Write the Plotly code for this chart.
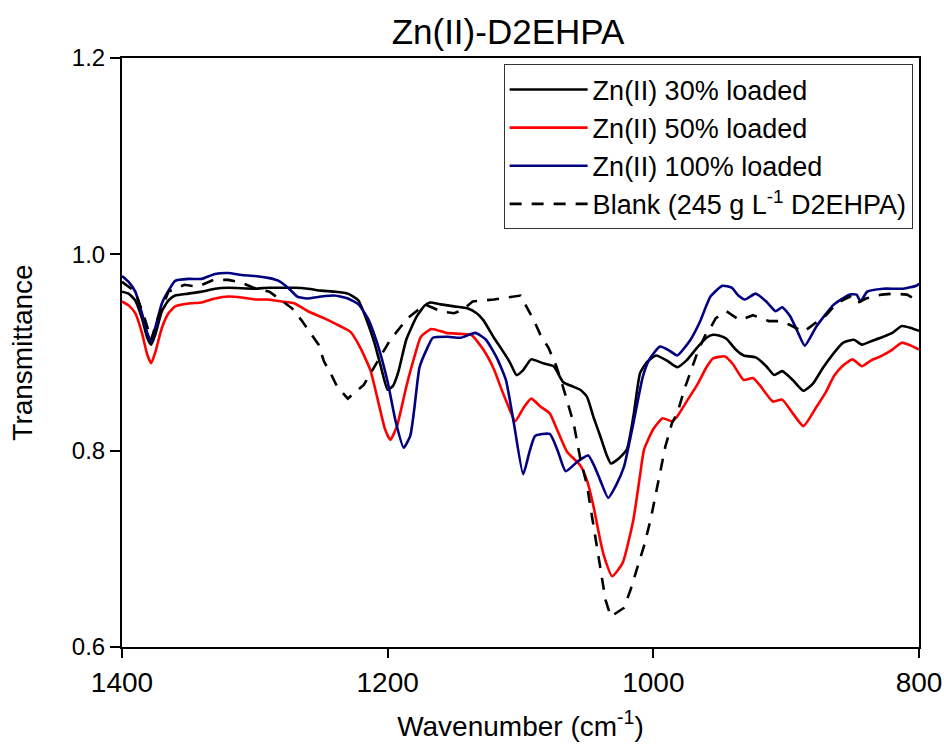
import plotly.graph_objects as go

# ---- data ----
wn_30 = [1400, 1395, 1390, 1385, 1381, 1378, 1375, 1370, 1365, 1360, 1350, 1340, 1330, 1320, 1300, 1290,
         1280, 1270, 1260, 1250, 1240, 1230, 1222, 1215, 1210, 1205, 1200, 1196, 1192, 1186, 1178, 1172,
         1168, 1160, 1150, 1140, 1133, 1128, 1120, 1115, 1108, 1103, 1098, 1092, 1083, 1075, 1068, 1060,
         1055, 1050, 1045, 1040, 1035, 1032, 1026, 1020, 1015, 1010, 1005, 998, 990, 982, 975, 967, 960,
         955, 950, 945, 938, 932, 923, 915, 909, 903, 895, 887, 880, 872, 862, 857, 849, 843, 835, 827,
         820, 813, 806, 800]
t_30 = [0.962, 0.960, 0.953, 0.935, 0.915, 0.908, 0.918, 0.942, 0.953, 0.958, 0.960, 0.962, 0.965, 0.966,
        0.965, 0.966, 0.966, 0.966, 0.965, 0.963, 0.962, 0.960, 0.953, 0.930, 0.910, 0.885, 0.862, 0.866,
        0.880, 0.913, 0.937, 0.948, 0.951, 0.949, 0.947, 0.945, 0.940, 0.933, 0.915, 0.905, 0.890, 0.877,
        0.882, 0.893, 0.889, 0.886, 0.870, 0.865, 0.862, 0.855, 0.834, 0.815, 0.795, 0.787, 0.792, 0.801,
        0.835, 0.879, 0.890, 0.897, 0.892, 0.885, 0.892, 0.905, 0.915, 0.918, 0.917, 0.914, 0.903, 0.897,
        0.895, 0.886, 0.877, 0.881, 0.872, 0.861, 0.868, 0.885, 0.903, 0.910, 0.913, 0.908, 0.912, 0.916,
        0.920, 0.927, 0.925, 0.922]

wn_50 = [1400, 1395, 1390, 1385, 1381, 1378, 1375, 1370, 1365, 1360, 1350, 1340, 1330, 1320, 1310, 1300,
         1290, 1280, 1270, 1260, 1248, 1236, 1228, 1221, 1213, 1208, 1202, 1198, 1193, 1186, 1180, 1175,
         1167, 1156, 1145, 1137, 1128, 1120, 1115, 1110, 1104, 1098, 1092, 1085, 1078, 1072, 1065, 1055,
         1050, 1045, 1040, 1037, 1031, 1023, 1015, 1010, 1007, 1000, 993, 986, 982, 975, 967, 960, 955,
         946, 940, 932, 925, 920, 910, 903, 895, 887, 877, 870, 864, 857, 850, 843, 836, 829, 820, 813,
         806, 800]
t_50 = [0.952, 0.948, 0.940, 0.920, 0.898, 0.889, 0.900, 0.925, 0.940, 0.947, 0.950, 0.951, 0.955, 0.957,
        0.956, 0.954, 0.954, 0.952, 0.950, 0.942, 0.935, 0.927, 0.921, 0.906, 0.882, 0.855, 0.822, 0.811,
        0.825, 0.865, 0.895, 0.916, 0.924, 0.920, 0.919, 0.918, 0.903, 0.883, 0.865, 0.848, 0.830, 0.843,
        0.853, 0.845, 0.838, 0.820, 0.799, 0.785, 0.770, 0.743, 0.709, 0.692, 0.672, 0.686, 0.730, 0.775,
        0.801, 0.822, 0.833, 0.830, 0.835, 0.850, 0.867, 0.885, 0.894, 0.896, 0.888, 0.872, 0.874, 0.867,
        0.850, 0.852, 0.838, 0.825, 0.845, 0.860, 0.876, 0.887, 0.893, 0.886, 0.892, 0.896, 0.903, 0.910,
        0.907, 0.903]

wn_100 = [1400, 1395, 1390, 1385, 1381, 1378, 1375, 1370, 1365, 1360, 1350, 1340, 1330, 1320, 1310, 1300,
          1290, 1282, 1275, 1268, 1261, 1250, 1240, 1230, 1222, 1215, 1208, 1200, 1194, 1188, 1183, 1180,
          1176, 1170, 1166, 1155, 1145, 1134, 1126, 1118, 1111, 1105, 1098, 1093, 1089, 1078, 1072, 1066,
          1057, 1049, 1044, 1040, 1034, 1028, 1022, 1015, 1008, 1003, 995, 988, 982, 972, 965, 957, 948,
          941, 936, 931, 923, 915, 908, 903, 897, 891, 886, 877, 864, 852, 847, 844, 839, 827, 812, 802, 800]
t_100 = [0.978, 0.972, 0.962, 0.940, 0.920, 0.911, 0.925, 0.950, 0.963, 0.973, 0.975, 0.975, 0.980, 0.981,
         0.979, 0.978, 0.976, 0.973, 0.966, 0.957, 0.955, 0.957, 0.958, 0.955, 0.949, 0.935, 0.910, 0.870,
         0.830, 0.803, 0.815, 0.842, 0.885, 0.905, 0.915, 0.916, 0.915, 0.920, 0.913, 0.895, 0.872, 0.828,
         0.776, 0.800, 0.815, 0.817, 0.800, 0.779, 0.789, 0.795, 0.783, 0.770, 0.752, 0.765, 0.784, 0.828,
         0.875, 0.893, 0.906, 0.902, 0.897, 0.913, 0.931, 0.957, 0.968, 0.966, 0.958, 0.954, 0.960, 0.952,
         0.942, 0.946, 0.937, 0.920, 0.907, 0.927, 0.949, 0.959, 0.959, 0.952, 0.962, 0.965, 0.965, 0.968,
         0.970]

wn_blank = [1400, 1390, 1383, 1378, 1373, 1365, 1353, 1343, 1331, 1320, 1310, 1301, 1289, 1279, 1272, 1265,
            1258, 1252, 1248, 1243, 1238, 1230, 1218, 1198, 1185, 1172, 1160, 1150, 1144, 1136, 1120, 1104,
            1100, 1094, 1090, 1085, 1079, 1073, 1068, 1060, 1055, 1050, 1045, 1040, 1036, 1032, 1022, 1017,
            1012, 1007, 1002, 997, 991, 986, 982, 976, 971, 966, 960, 957, 953, 945, 935, 925, 913, 905, 897,
            887, 878, 870, 862, 852, 847, 840, 828, 819, 809, 800]
t_blank = [0.972, 0.962, 0.935, 0.913, 0.935, 0.962, 0.969, 0.967, 0.974, 0.974, 0.971, 0.966, 0.962, 0.952,
           0.945, 0.933, 0.920, 0.908, 0.891, 0.879, 0.865, 0.853, 0.867, 0.913, 0.935, 0.949, 0.942, 0.940,
           0.943, 0.952, 0.954, 0.957, 0.958, 0.943, 0.933, 0.918, 0.905, 0.886, 0.865, 0.828, 0.792, 0.765,
           0.723, 0.685, 0.648, 0.631, 0.640, 0.659, 0.682, 0.703, 0.730, 0.764, 0.804, 0.828, 0.838, 0.865,
           0.884, 0.903, 0.920, 0.925, 0.935, 0.942, 0.933, 0.938, 0.932, 0.932, 0.928, 0.921, 0.930, 0.938,
           0.950, 0.957, 0.950, 0.955, 0.959, 0.960, 0.959, 0.952]

x_ticks = [1400, 1200, 1000, 800]
y_ticks = [0.6, 0.8, 1.0, 1.2]

FONT = "Liberation Sans, Arial, sans-serif"

fig = go.Figure()
fig.add_trace(go.Scatter(x=wn_30, y=t_30, mode="lines", name="Zn(II) 30% loaded",
                         line=dict(color="#000000", width=2.6, shape="spline", smoothing=0.5)))
fig.add_trace(go.Scatter(x=wn_50, y=t_50, mode="lines", name="Zn(II) 50% loaded",
                         line=dict(color="#ff0000", width=2.6, shape="spline", smoothing=0.5)))
fig.add_trace(go.Scatter(x=wn_100, y=t_100, mode="lines", name="Zn(II) 100% loaded",
                         line=dict(color="#000080", width=2.6, shape="spline", smoothing=0.5)))
fig.add_trace(go.Scatter(x=wn_blank, y=t_blank, mode="lines",
                         name="Blank (245 g L<sup>-1</sup> D2EHPA)",
                         line=dict(color="#000000", width=2.6, dash="12px,10px")))

fig.update_layout(
    width=944, height=746,
    margin=dict(l=122, r=25, t=58, b=99, autoexpand=False),
    paper_bgcolor="white", plot_bgcolor="white",
    font=dict(family=FONT, color="black"),
    title=dict(text="Zn(II)-D2EHPA", font=dict(size=35, family=FONT, color="black"),
               x=508 / 944, xref="container", xanchor="center",
               y=1 - 32 / 746, yref="container", yanchor="middle"),
    showlegend=True,
    legend=dict(x=0.992, y=0.989, xanchor="right", yanchor="top",
                bgcolor="white", bordercolor="#333333", borderwidth=1,
                font=dict(size=27, family=FONT, color="black"),
                itemwidth=78, tracegroupgap=0),
)
fig.update_xaxes(
    range=[1400, 800], tickvals=x_ticks, ticktext=[str(v) for v in x_ticks],
    ticks="outside", ticklen=9, tickwidth=2, tickcolor="black",
    showline=True, linewidth=2, linecolor="black", mirror=True,
    showgrid=False, zeroline=False, automargin=False,
    tickfont=dict(size=28, family=FONT, color="black"),
    title=dict(text="Wavenumber (cm<sup>-1</sup>)", font=dict(size=28, family=FONT, color="black"),
               standoff=20),
)
fig.update_yaxes(
    range=[0.6, 1.2], tickvals=y_ticks, tickformat=".1f",
    ticks="outside", ticklen=10, tickwidth=2, tickcolor="black",
    showline=True, linewidth=2, linecolor="black", mirror=True,
    showgrid=False, zeroline=False, automargin=False,
    tickfont=dict(size=24, family=FONT, color="black"),
    title=dict(text="Transmittance", font=dict(size=28, family=FONT, color="black"), standoff=31),
)

fig.write_html("out.html")
